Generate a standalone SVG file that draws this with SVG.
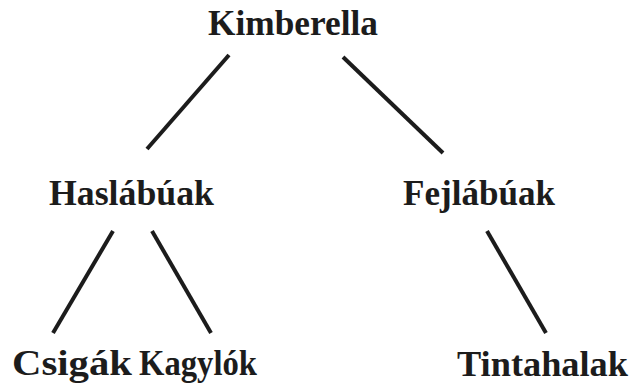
<svg xmlns="http://www.w3.org/2000/svg" width="631" height="386" viewBox="0 0 631 386">
<style>
text{font-family:"Liberation Serif","Times New Roman",serif;font-weight:bold;font-size:35px;fill:#1c1c1c}
.c line{stroke:#1c1c1c;stroke-width:4;stroke-linecap:butt}
</style>
<rect width="631" height="386" fill="#ffffff"/>
<g class="c" id="connectors">
<line x1="229" y1="55" x2="147" y2="149"/>
<line x1="343" y1="57" x2="443" y2="153"/>
<line x1="113" y1="231" x2="53" y2="333"/>
<line x1="152" y1="231" x2="211" y2="333"/>
<line x1="487" y1="231" x2="546" y2="333"/>
</g>
<g id="kimberella"><text x="208" y="35" textLength="170" lengthAdjust="spacingAndGlyphs">Kimberella</text></g>
<g id="haslabuak"><text x="49" y="205" textLength="165" lengthAdjust="spacingAndGlyphs">Haslábúak</text></g>
<g id="fejlabuak"><text x="403" y="205" textLength="152" lengthAdjust="spacingAndGlyphs">Fejlábúak</text></g>
<g id="csigak"><text x="12" y="375" textLength="120" lengthAdjust="spacingAndGlyphs">Csigák</text></g>
<g id="kagylok"><text x="139" y="375" textLength="118" lengthAdjust="spacingAndGlyphs">Kagylók</text></g>
<g id="tintahalak"><text x="457" y="376" textLength="171" lengthAdjust="spacingAndGlyphs">Tintahalak</text></g>
</svg>
